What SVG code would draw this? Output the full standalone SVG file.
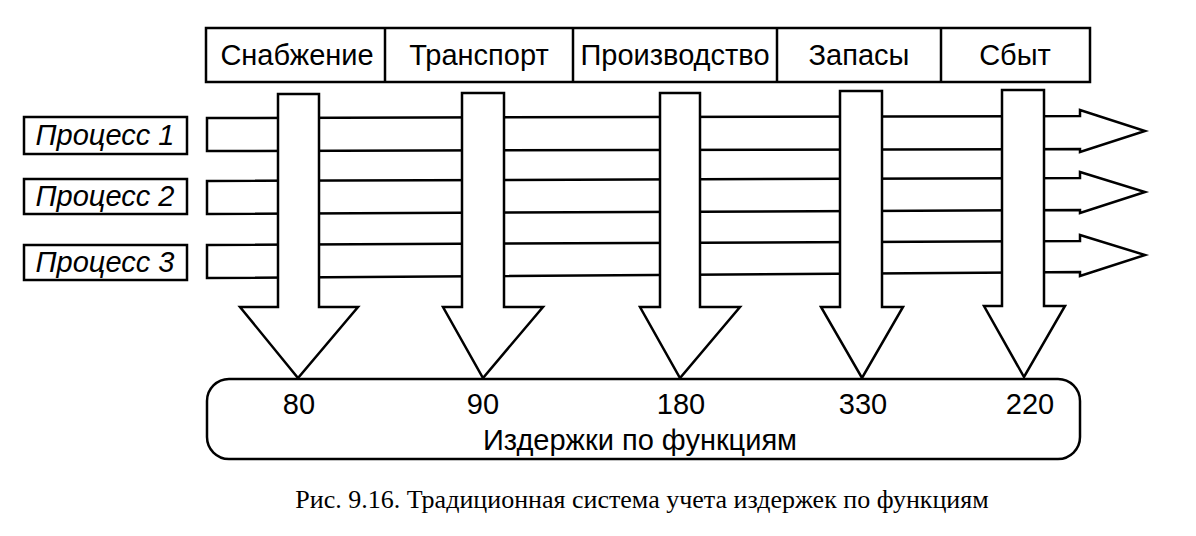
<svg xmlns="http://www.w3.org/2000/svg" width="1196" height="536" viewBox="0 0 1196 536">
<style>
.s{fill:#fff;stroke:#000;stroke-width:2.5}
.t{font-family:"Liberation Sans",Arial,sans-serif;font-size:29px;text-anchor:middle;fill:#000}
.i{font-style:italic}
</style>
<rect width="1196" height="536" fill="#fff"/>
<g id="functions">
<rect class="s" x="206" y="28" width="884" height="54"/>
<line x1="385" y1="28" x2="385" y2="82" stroke="#000" stroke-width="2.5"/>
<line x1="573" y1="28" x2="573" y2="82" stroke="#000" stroke-width="2.5"/>
<line x1="777" y1="28" x2="777" y2="82" stroke="#000" stroke-width="2.5"/>
<line x1="941" y1="28" x2="941" y2="82" stroke="#000" stroke-width="2.5"/>
<text class="t" x="297" y="65">Снабжение</text>
<text class="t" x="479" y="65">Транспорт</text>
<text class="t" x="675" y="65">Производство</text>
<text class="t" x="859" y="65">Запасы</text>
<text class="t" x="1015" y="65">Сбыт</text>
</g>
<g id="process-labels">
<rect class="s" x="24" y="117" width="163" height="37"/>
<text class="t i" x="105" y="145">Процесс 1</text>
<rect class="s" x="24" y="179" width="163" height="35"/>
<text class="t i" x="105" y="206">Процесс 2</text>
<rect class="s" x="24" y="245" width="163" height="35"/>
<text class="t i" x="105" y="272">Процесс 3</text>
</g>
<g id="connectors">
<polygon class="s" points="207,118 1080,116 1080,110 1145,131 1080,152 1080,149 207,151"/>
<polygon class="s" points="207,181 1080,178 1080,172 1145,192 1080,213 1080,210 207,214"/>
<polygon class="s" points="207,245 1080,241 1080,235 1145,255 1080,276 1080,272 207,278"/>
<polygon class="s" points="278,94 319,94 319,307 358,307 298,378 240,307 278,307"/>
<polygon class="s" points="462,93 504,93 504,307 543,307 483,378 443,307 462,307"/>
<polygon class="s" points="660,93 700,93 700,307 740,307 680,378 640,307 660,307"/>
<polygon class="s" points="840,91 882,91 882,307 903,307 862,378 821,307 840,307"/>
<polygon class="s" points="1002,90 1044,90 1044,306 1065,306 1024,377 984,306 1002,306"/>
</g>
<g id="costs">
<rect class="s" x="207" y="379" width="873" height="80" rx="22"/>
<text class="t" x="299" y="414">80</text>
<text class="t" x="483" y="414">90</text>
<text class="t" x="681" y="414">180</text>
<text class="t" x="863" y="414">330</text>
<text class="t" x="1030" y="414">220</text>
<text class="t" x="640" y="450">Издержки по функциям</text>
</g>
<text x="642" y="508" font-family="Liberation Serif,serif" font-size="26" text-anchor="middle">Рис. 9.16. Традиционная система учета издержек по функциям</text>
</svg>
